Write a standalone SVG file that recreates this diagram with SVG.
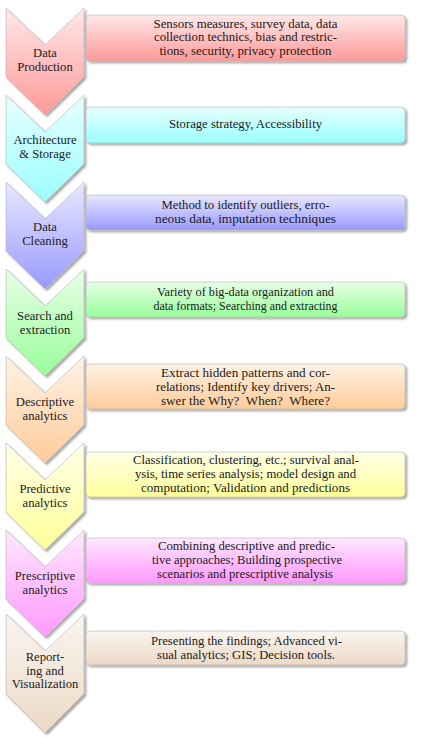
<svg xmlns="http://www.w3.org/2000/svg" width="428" height="737" viewBox="0 0 428 737">
  <style>
    .shape { stroke: #b3b3b3; stroke-width: 0.6; filter: url(#shadow); }
    .stage { font-family: "Liberation Serif", "Times New Roman", serif; font-size: 11.5px; fill: #1a1a1a; text-anchor: middle; }
    .desc { font-family: "Liberation Serif", "Times New Roman", serif; font-size: 11.5px; fill: #1a1a1a; text-anchor: middle; }
  </style>
  <defs>
    <filter id="shadow" x="-10%" y="-10%" width="130%" height="130%">
      <feOffset in="SourceAlpha" dx="2" dy="2" result="off"/>
      <feGaussianBlur in="off" stdDeviation="0.8" result="blur"/>
      <feFlood flood-color="#000" flood-opacity="0.35"/>
      <feComposite in2="blur" operator="in" result="sh"/>
      <feMerge><feMergeNode in="sh"/><feMergeNode in="SourceGraphic"/></feMerge>
    </filter>
    <linearGradient id="g-red" x1="0" y1="0" x2="0" y2="1"><stop offset="0" stop-color="#ffe8e8"/><stop offset="1" stop-color="#ff9999"/></linearGradient>
    <linearGradient id="g-cyan" x1="0" y1="0" x2="0" y2="1"><stop offset="0" stop-color="#e8ffff"/><stop offset="1" stop-color="#99ffff"/></linearGradient>
    <linearGradient id="g-blue" x1="0" y1="0" x2="0" y2="1"><stop offset="0" stop-color="#e8e8ff"/><stop offset="1" stop-color="#9999ff"/></linearGradient>
    <linearGradient id="g-green" x1="0" y1="0" x2="0" y2="1"><stop offset="0" stop-color="#e8ffe8"/><stop offset="1" stop-color="#99ff99"/></linearGradient>
    <linearGradient id="g-orange" x1="0" y1="0" x2="0" y2="1"><stop offset="0" stop-color="#fff2e6"/><stop offset="1" stop-color="#ffcc99"/></linearGradient>
    <linearGradient id="g-yellow" x1="0" y1="0" x2="0" y2="1"><stop offset="0" stop-color="#ffffe8"/><stop offset="1" stop-color="#ffff99"/></linearGradient>
    <linearGradient id="g-magenta" x1="0" y1="0" x2="0" y2="1"><stop offset="0" stop-color="#ffe8ff"/><stop offset="1" stop-color="#ff99ff"/></linearGradient>
    <linearGradient id="g-brown" x1="0" y1="0" x2="0" y2="1"><stop offset="0" stop-color="#faf5f0"/><stop offset="1" stop-color="#ecd9c6"/></linearGradient>
  </defs>

  <rect width="428" height="737" fill="#fff"/>

  <!-- stage chevrons; labels widened slightly to the wide serif look -->
  <g id="stage-production">
    <polygon class="shape" fill="url(#g-red)" points="6,8 45,45 84,8 84,77 45,115 6,77"/>
    <g transform="translate(45 0) scale(1.1 1)">
      <text class="stage" x="0" y="57.5">Data</text>
      <text class="stage" x="0" y="71.5">Production</text>
    </g>
  </g>
  <g id="stage-architecture">
    <polygon class="shape" fill="url(#g-cyan)" points="6,95 45,132 84,95 84,164 45,202 6,164"/>
    <g transform="translate(45 0) scale(1.1 1)">
      <text class="stage" x="0" y="144.5">Architecture</text>
      <text class="stage" x="0" y="158">&amp; Storage</text>
    </g>
  </g>
  <g id="stage-cleaning">
    <polygon class="shape" fill="url(#g-blue)" points="6,182 45,219 84,182 84,251 45,289 6,251"/>
    <g transform="translate(45 0) scale(1.1 1)">
      <text class="stage" x="0" y="231.5">Data</text>
      <text class="stage" x="0" y="245.5">Cleaning</text>
    </g>
  </g>
  <g id="stage-search">
    <polygon class="shape" fill="url(#g-green)" points="6,269 45,306 84,269 84,338 45,376 6,338"/>
    <g transform="translate(45 0) scale(1.1 1)">
      <text class="stage" x="0" y="320.5">Search and</text>
      <text class="stage" x="0" y="334">extraction</text>
    </g>
  </g>
  <g id="stage-descriptive">
    <polygon class="shape" fill="url(#g-orange)" points="6,356 45,393 84,356 84,425 45,463 6,425"/>
    <g transform="translate(45 0) scale(1.1 1)">
      <text class="stage" x="0" y="406">Descriptive</text>
      <text class="stage" x="0" y="420">analytics</text>
    </g>
  </g>
  <g id="stage-predictive">
    <polygon class="shape" fill="url(#g-yellow)" points="6,443 45,480 84,443 84,512 45,550 6,512"/>
    <g transform="translate(45 0) scale(1.1 1)">
      <text class="stage" x="0" y="493">Predictive</text>
      <text class="stage" x="0" y="507">analytics</text>
    </g>
  </g>
  <g id="stage-prescriptive">
    <polygon class="shape" fill="url(#g-magenta)" points="6,530 45,567 84,530 84,599 45,637 6,599"/>
    <g transform="translate(45 0) scale(1.1 1)">
      <text class="stage" x="0" y="580.5">Prescriptive</text>
      <text class="stage" x="0" y="594.5">analytics</text>
    </g>
  </g>
  <g id="stage-reporting">
    <polygon class="shape" fill="url(#g-brown)" points="6,614 45,651 84,614 84,694 45,733 6,694"/>
    <g transform="translate(45 0) scale(1.1 1)">
      <text class="stage" x="0" y="661.5">Report-</text>
      <text class="stage" x="0" y="675.5">ing and</text>
      <text class="stage" x="0" y="688.5">Visualization</text>
    </g>
  </g>

  <!-- description boxes -->
  <g id="desc-production">
    <rect class="shape" fill="url(#g-red)" x="86" y="15" width="319" height="46" rx="4"/>
    <text class="desc" x="245.5" y="27.5" textLength="184" lengthAdjust="spacingAndGlyphs">Sensors measures, survey data, data</text>
    <text class="desc" x="245.5" y="41.3" textLength="183" lengthAdjust="spacingAndGlyphs">collection technics, bias and restric-</text>
    <text class="desc" x="245.5" y="55" textLength="172" lengthAdjust="spacingAndGlyphs">tions, security, privacy protection</text>
  </g>
  <g id="desc-architecture">
    <rect class="shape" fill="url(#g-cyan)" x="86" y="107" width="319" height="36" rx="4"/>
    <text class="desc" x="245.5" y="127.5" textLength="153" lengthAdjust="spacingAndGlyphs">Storage strategy, Accessibility</text>
  </g>
  <g id="desc-cleaning">
    <rect class="shape" fill="url(#g-blue)" x="86" y="195" width="319" height="35" rx="4"/>
    <text class="desc" x="245.5" y="208.5" textLength="168" lengthAdjust="spacingAndGlyphs">Method to identify outliers, erro-</text>
    <text class="desc" x="245.5" y="222.5" textLength="181" lengthAdjust="spacingAndGlyphs">neous data, imputation techniques</text>
  </g>
  <g id="desc-search">
    <rect class="shape" fill="url(#g-green)" x="86" y="282" width="319" height="35" rx="4"/>
    <text class="desc" x="245.5" y="296" textLength="177" lengthAdjust="spacingAndGlyphs">Variety of big-data organization and</text>
    <text class="desc" x="245.5" y="310" textLength="184" lengthAdjust="spacingAndGlyphs">data formats; Searching and extracting</text>
  </g>
  <g id="desc-descriptive">
    <rect class="shape" fill="url(#g-orange)" x="86" y="364" width="319" height="45" rx="4"/>
    <text class="desc" x="245.5" y="376.5" textLength="169" lengthAdjust="spacingAndGlyphs">Extract hidden patterns and cor-</text>
    <text class="desc" x="245.5" y="390.5" textLength="179" lengthAdjust="spacingAndGlyphs">relations; Identify key drivers; An-</text>
    <text class="desc" x="245.5" y="404.5" textLength="169" lengthAdjust="spacingAndGlyphs" xml:space="preserve">swer the Why?  When?  Where?</text>
  </g>
  <g id="desc-predictive">
    <rect class="shape" fill="url(#g-yellow)" x="86" y="452" width="319" height="45" rx="4"/>
    <text class="desc" x="246" y="464" textLength="226" lengthAdjust="spacingAndGlyphs">Classification, clustering, etc.; survival anal-</text>
    <text class="desc" x="245.5" y="478" textLength="221" lengthAdjust="spacingAndGlyphs">ysis, time series analysis; model design and</text>
    <text class="desc" x="245.5" y="492" textLength="209" lengthAdjust="spacingAndGlyphs">computation; Validation and predictions</text>
  </g>
  <g id="desc-prescriptive">
    <rect class="shape" fill="url(#g-magenta)" x="86" y="538" width="319" height="45" rx="4"/>
    <text class="desc" x="246.5" y="550" textLength="177" lengthAdjust="spacingAndGlyphs">Combining descriptive and predic-</text>
    <text class="desc" x="247" y="564" textLength="190" lengthAdjust="spacingAndGlyphs">tive approaches; Building prospective</text>
    <text class="desc" x="245" y="578" textLength="176" lengthAdjust="spacingAndGlyphs">scenarios and prescriptive analysis</text>
  </g>
  <g id="desc-reporting">
    <rect class="shape" fill="url(#g-brown)" x="86" y="631" width="319" height="34" rx="4"/>
    <text class="desc" x="246.5" y="644.5" textLength="191" lengthAdjust="spacingAndGlyphs">Presenting the findings; Advanced vi-</text>
    <text class="desc" x="246" y="658.5" textLength="178" lengthAdjust="spacingAndGlyphs">sual analytics; GIS; Decision tools.</text>
  </g>

  <!-- stages chain by shape, so the connector group stays empty -->
  <g id="connectors"/>
</svg>
